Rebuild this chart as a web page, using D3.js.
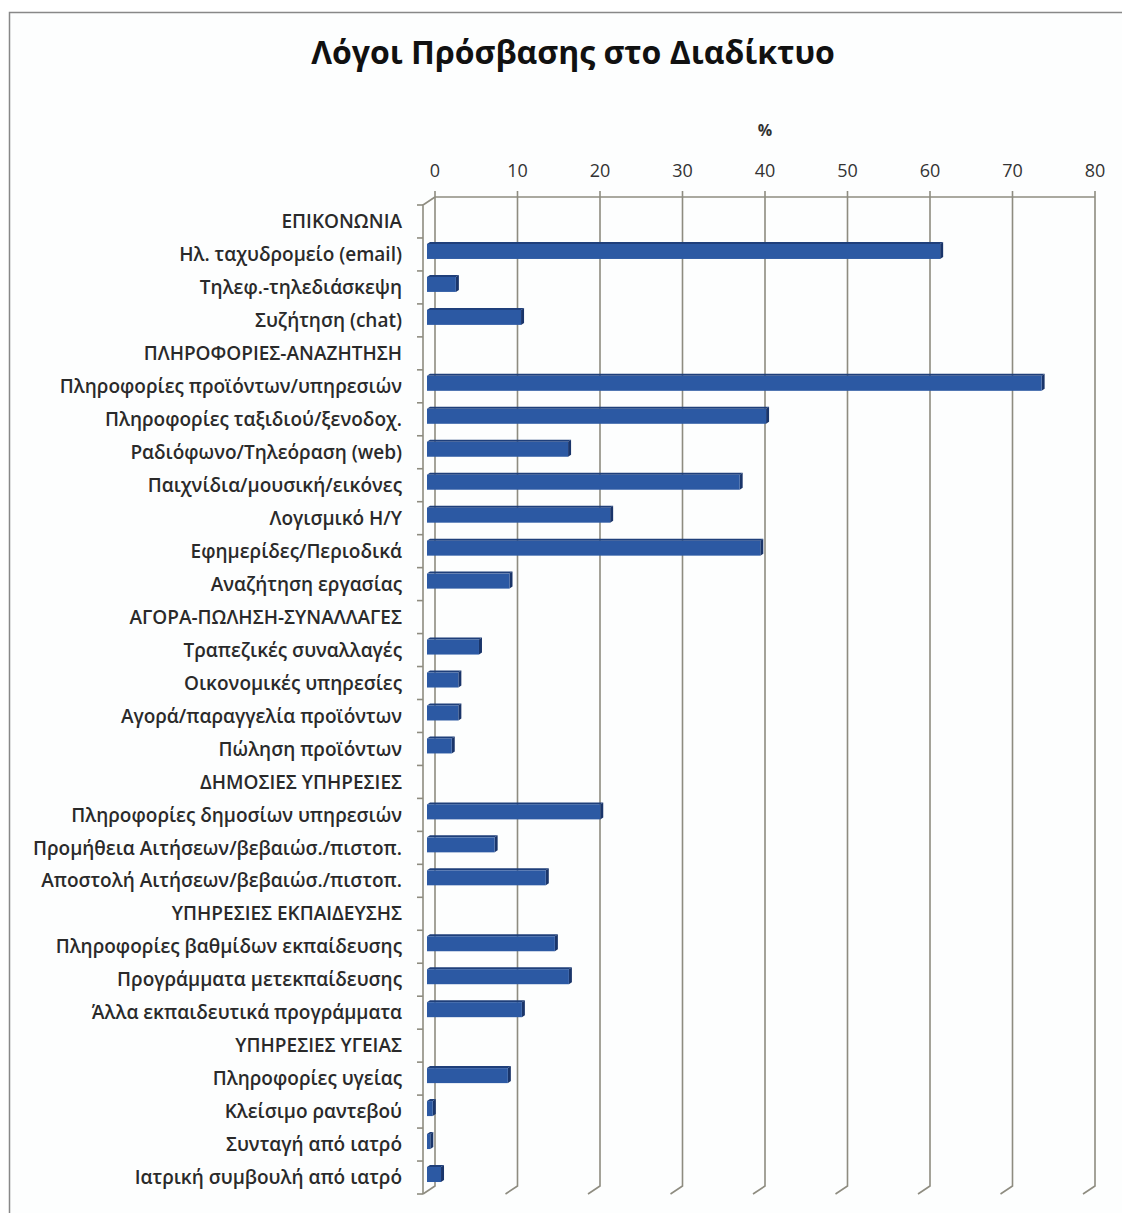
<!DOCTYPE html>
<html>
<head>
<meta charset="utf-8">
<script src="https://cdn.jsdelivr.net/npm/d3@7"></script>
<style>
  body { margin: 0; background: #fff; }
  svg { display: block; }
  .lbl { font-family: "Open Sans", sans-serif; font-size: 19px; font-weight: 600; fill: #2a2a2a; }
  .tick { font-family: "Open Sans", sans-serif; font-size: 18px; fill: #333; }
</style>
</head>
<body>
<div id="chart"></div>
<script>
// categories top to bottom (section headers have no value)
var categories = [
  "ΕΠΙΚΟΝΩΝΙΑ",
  "Ηλ. ταχυδρομείο (email)",
  "Τηλεφ.-τηλεδιάσκεψη",
  "Συζήτηση (chat)",
  "ΠΛΗΡΟΦΟΡΙΕΣ-ΑΝΑΖΗΤΗΣΗ",
  "Πληροφορίες προϊόντων/υπηρεσιών",
  "Πληροφορίες ταξιδιού/ξενοδοχ.",
  "Ραδιόφωνο/Τηλεόραση (web)",
  "Παιχνίδια/μουσική/εικόνες",
  "Λογισμικό Η/Υ",
  "Εφημερίδες/Περιοδικά",
  "Αναζήτηση εργασίας",
  "ΑΓΟΡΑ-ΠΩΛΗΣΗ-ΣΥΝΑΛΛΑΓΕΣ",
  "Τραπεζικές συναλλαγές",
  "Οικονομικές υπηρεσίες",
  "Αγορά/παραγγελία προϊόντων",
  "Πώληση προϊόντων",
  "ΔΗΜΟΣΙΕΣ ΥΠΗΡΕΣΙΕΣ",
  "Πληροφορίες δημοσίων υπηρεσιών",
  "Προμήθεια Αιτήσεων/βεβαιώσ./πιστοπ.",
  "Αποστολή Αιτήσεων/βεβαιώσ./πιστοπ.",
  "ΥΠΗΡΕΣΙΕΣ ΕΚΠΑΙΔΕΥΣΗΣ",
  "Πληροφορίες βαθμίδων εκπαίδευσης",
  "Προγράμματα μετεκπαίδευσης",
  "Άλλα εκπαιδευτικά προγράμματα",
  "ΥΠΗΡΕΣΙΕΣ ΥΓΕΙΑΣ",
  "Πληροφορίες υγείας",
  "Κλείσιμο ραντεβού",
  "Συνταγή από ιατρό",
  "Ιατρική συμβουλή από ιατρό"
];
var values = [
  null, 62.2, 3.5, 11.4,
  null, 74.5, 41.1, 17.1, 37.9, 22.2, 40.4, 10.0,
  null, 6.3, 3.8, 3.8, 3.0,
  null, 21.0, 8.2, 14.4,
  null, 15.5, 17.2, 11.5,
  null, 9.8, 0.7, 0.4, 1.7
];
var xTicks = [0, 10, 20, 30, 40, 50, 60, 70, 80];
var title = "Λόγοι Πρόσβασης στο Διαδίκτυο";
var axisTitle = "%";

var width = 1122, height = 1213;
var depthX = 12, depthY = -8;      // front plane -> back wall
var gridCol = "#8e8c80";

var svg = d3.select("#chart").append("svg")
    .attr("width", width)
    .attr("height", height);

svg.append("rect")
    .attr("x", 9.5).attr("y", 12.5)
    .attr("width", width + 20).attr("height", height + 20)
    .attr("fill", "#fdfefe")
    .attr("stroke", "#888").attr("stroke-width", 1.5);

// scales: x on the back wall, y bands on the front plane
var x = d3.scaleLinear().domain([0, 80]).range([435, 1095]);
var y = d3.scaleBand().domain(d3.range(categories.length)).range([205, 1194]);

var yTop = y.range()[0], yBot = y.range()[1];

// back wall gridlines + floor diagonals
var grid = svg.append("g").attr("stroke", gridCol).attr("stroke-width", 1.6).attr("fill", "none");
xTicks.forEach(function (t) {
    grid.append("path")
        .attr("d", d3.line()([
            [x(t), yTop + depthY - 6],
            [x(t), yBot + depthY],
            [x(t) - depthX, yBot]
        ]));
});
grid.append("line")
    .attr("x1", x(0)).attr("x2", x(80))
    .attr("y1", yTop + depthY).attr("y2", yTop + depthY);
// left wall
var x0f = x(0) - depthX;
grid.append("path").attr("d", d3.line()([
    [x(0), yTop + depthY], [x0f, yTop], [x0f, yBot]
]));
// category ticks on the left wall
y.domain().concat([categories.length]).forEach(function (i) {
    var yy = i < categories.length ? y(i) : yBot;
    grid.append("line")
        .attr("x1", x0f - 6).attr("x2", x0f)
        .attr("y1", yy).attr("y2", yy);
});

// x tick labels
svg.append("g").selectAll("text")
    .data(xTicks)
    .join("text")
    .attr("class", "tick")
    .attr("x", d => x(d))
    .attr("y", 177)
    .attr("text-anchor", "middle")
    .text(d => d);

svg.append("text")
    .attr("x", x(40))
    .attr("y", 136)
    .attr("text-anchor", "middle")
    .attr("font-family", "Open Sans, sans-serif")
    .attr("font-weight", "bold")
    .attr("font-size", 16)
    .attr("fill", "#333")
    .text(axisTitle);

svg.append("text")
    .attr("x", 573)
    .attr("y", 64)
    .attr("text-anchor", "middle")
    .attr("font-family", "Open Sans, sans-serif")
    .attr("font-weight", "bold")
    .attr("font-size", 32)
    .attr("fill", "#111")
    .text(title);

// category labels
svg.append("g").selectAll("text")
    .data(categories)
    .join("text")
    .attr("class", "lbl")
    .attr("x", 402)
    .attr("y", (d, i) => y(i) + y.bandwidth() / 2)
    .attr("dy", "0.35em")
    .attr("text-anchor", "end")
    .text(d => d);

// 3D-ish bars
var barH = 15, bdx = 3, bdy = -2, shift = 8;
var bars = svg.append("g").selectAll("g")
    .data(values.map((v, i) => ({v: v, i: i})).filter(d => d.v !== null))
    .join("g");

bars.each(function (d) {
    var g = d3.select(this);
    var x1 = x(0) - shift, x2 = x(d.v) - shift;
    var yt = y(d.i) + y.bandwidth() / 2 - 3 - barH / 2;
    // top face
    g.append("path")
        .attr("d", d3.line()([[x1, yt], [x1 + bdx, yt + bdy], [x2 + bdx, yt + bdy], [x2, yt]]) + "Z")
        .attr("fill", "#1f3f7a");
    // end face
    g.append("path")
        .attr("d", d3.line()([[x2, yt], [x2 + bdx, yt + bdy], [x2 + bdx, yt + bdy + barH], [x2, yt + barH]]) + "Z")
        .attr("fill", "#1a356a");
    // front face
    g.append("rect")
        .attr("x", x1).attr("y", yt)
        .attr("width", Math.max(0.5, x2 - x1)).attr("height", barH)
        .attr("fill", "#2c59a3");
});
</script>
</body>
</html>
